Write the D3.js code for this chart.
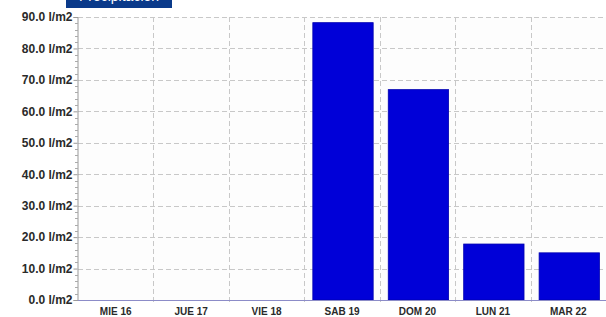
<!DOCTYPE html>
<html>
<head>
<meta charset="utf-8">
<script src="https://cdn.jsdelivr.net/npm/d3@7"></script>
<style>
  body { margin: 0; background: #fff; }
  svg { display: block; font-family: "Liberation Sans", Arial, sans-serif; }
</style>
</head>
<body>
<svg id="chart" width="606" height="317"></svg>
<script>
// data
var days = ['MIE 16', 'JUE 17', 'VIE 18', 'SAB 19', 'DOM 20', 'LUN 21', 'MAR 22'];
var rain = [0, 0, 0, 88.2, 66.9, 17.8, 15.0];
var yTicks = [0, 10, 20, 30, 40, 50, 60, 70, 80, 90];

var width = 606, height = 317,
    margin = {top: 17, right: 0, bottom: 17, left: 78};

var svg = d3.select('#chart');

// title banner, cut off at the top of the picture
svg.append('rect')
    .attr('x', 66).attr('y', -20)
    .attr('width', 106).attr('height', 28)
    .attr('fill', '#0a3a8a');
svg.append('text')
    .attr('x', 119).attr('y', 1)
    .attr('text-anchor', 'middle')
    .attr('fill', '#fff')
    .style('font-size', '14px')
    .text('Precipitación');

var x = d3.scaleBand()
    .domain(days)
    .range([margin.left, width - margin.right])
    .paddingInner(0.2)
    .paddingOuter(0.1);

var y = d3.scaleLinear()
    .domain([0, 90])
    .range([height - margin.bottom, margin.top]);

var plot = svg.append('g');

plot.append('rect')
    .attr('x', margin.left).attr('y', margin.top)
    .attr('width', width - margin.left - margin.right)
    .attr('height', y(0) - margin.top)
    .attr('fill', '#fdfdfd');

// horizontal grid
plot.selectAll('.hgrid')
    .data(yTicks.slice(1))
  .enter().append('line')
    .attr('class', 'hgrid')
    .attr('x1', margin.left).attr('x2', width - margin.right)
    .attr('y1', function(d) { return Math.round(y(d)) + 0.5; })
    .attr('y2', function(d) { return Math.round(y(d)) + 0.5; })
    .attr('stroke', '#c8c8c8')
    .attr('stroke-dasharray', '5,3');

// vertical grid on category boundaries
var bounds = d3.range(1, days.length).map(function(i) {
    return margin.left + i * x.step();
});

plot.selectAll('.vgrid')
    .data(bounds)
  .enter().append('line')
    .attr('class', 'vgrid')
    .attr('x1', function(d) { return Math.round(d) + 0.5; })
    .attr('x2', function(d) { return Math.round(d) + 0.5; })
    .attr('y1', margin.top).attr('y2', y(0) + 5)
    .attr('stroke', '#c8c8c8')
    .attr('stroke-dasharray', '5,3');

// bars
plot.selectAll('.bar')
    .data(rain)
  .enter().append('rect')
    .attr('class', 'bar')
    .attr('x', function(d, i) { return x(days[i]) + 1; })
    .attr('width', x.bandwidth())
    .attr('y', function(d) { return y(d); })
    .attr('height', function(d) { return y(0) - y(d); })
    .attr('fill', '#0000d8')
    .attr('stroke', '#0000b0')
    .attr('stroke-width', 0.8);

// y axis
var yAxis = d3.axisLeft(y)
    .tickValues(yTicks)
    .tickSize(4)
    .tickFormat(function(d) { return d.toFixed(1) + ' l/m2'; });

var gy = svg.append('g')
    .attr('transform', 'translate(' + (margin.left - 0.5) + ',0)')
    .call(yAxis);
gy.select('.domain').attr('stroke', '#999');
gy.selectAll('.tick line').attr('stroke', '#999');
gy.selectAll('.tick text')
    .attr('x', -5)
    .attr('fill', '#2a2a2a')
    .style('font-size', '12px')
    .style('font-weight', 'bold');

// minor ticks on y axis
svg.append('g').selectAll('line')
    .data(d3.range(0, 90, 2).filter(function(d) { return d % 10 !== 0; }))
  .enter().append('line')
    .attr('x1', margin.left - 3).attr('x2', margin.left)
    .attr('y1', function(d) { return Math.round(y(d)) + 0.5; })
    .attr('y2', function(d) { return Math.round(y(d)) + 0.5; })
    .attr('stroke', '#aaa');

// x axis baseline
svg.append('line')
    .attr('x1', margin.left).attr('x2', width)
    .attr('y1', y(0) + 0.5).attr('y2', y(0) + 0.5)
    .attr('stroke', '#8c8cc8');

var xAxis = d3.axisBottom(x).tickSize(0);
var gx = svg.append('g')
    .attr('transform', 'translate(0,' + y(0) + ')')
    .call(xAxis);
gx.select('.domain').remove();
gx.selectAll('.tick text')
    .attr('y', 8)
    .attr('fill', '#2a2a2a')
    .style('font-size', '10px')
    .style('font-weight', 'bold');
</script>
</body>
</html>
